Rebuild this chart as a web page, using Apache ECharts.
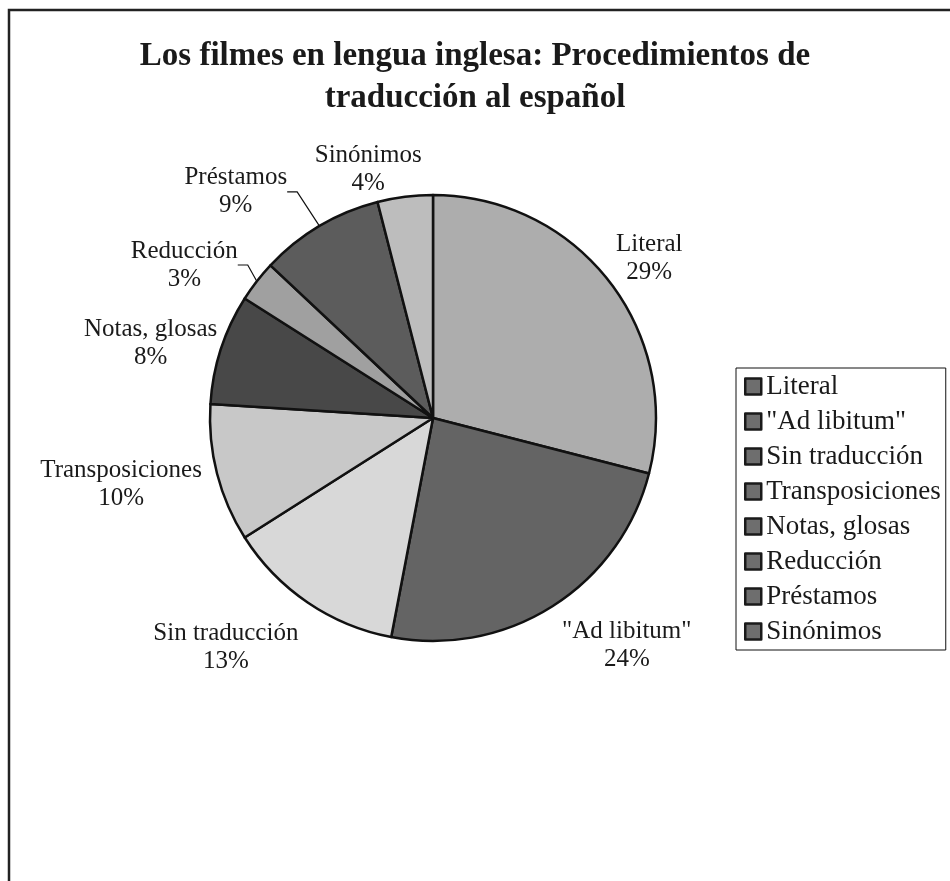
<!DOCTYPE html>
<html>
<head>
<meta charset="utf-8">
<script src="https://cdn.jsdelivr.net/npm/echarts@6/dist/echarts.min.js"></script>
<style>
html, body { margin: 0; padding: 0; background: #fff; }
#chart { width: 950px; height: 881px; }
</style>
</head>
<body>
<div id="chart"></div>
<script>
var categories = ['Literal', '"Ad libitum"', 'Sin traducción', 'Transposiciones', 'Notas, glosas', 'Reducción', 'Préstamos', 'Sinónimos'];
var values = [29, 24, 13, 10, 8, 3, 9, 4];

var sliceColors = ['#adadad', '#646464', '#d8d8d8', '#c8c8c8', '#484848', '#a0a0a0', '#5c5c5c', '#bdbdbd'];
// label placement: radial distance from pie centre and angular shift (deg) from slice middle
var labelDist = [269, 299, 309, 319, 292, 292, 300, 257];
var labelShift = [1.3, -8, 7.9, 2.3, -3.3, -6.2, -10.5, -7.4];
var withLine = [false, false, false, false, false, true, true, false];

var cx = 433, cy = 418, radius = 223;

// mid angle of each slice, clockwise from 12 o'clock
var total = values.reduce(function (s, v) { return s + v; }, 0);
var mids = [];
var acc = 0;
values.forEach(function (v) {
    mids.push((acc + v / 2) / total * 360);
    acc += v;
});

var serif = '"Liberation Serif", "DejaVu Serif", serif';

var pieData = categories.map(function (name, i) {
    return {
        name: name,
        value: values[i],
        itemStyle: { color: sliceColors[i] },
        labelLine: { show: withLine[i] }
    };
});

var option = {
    backgroundColor: '#fff',
    animation: false,
    title: {
        text: 'Los filmes en lengua inglesa: Procedimientos de\ntraducción al español',
        left: 'center',
        top: 30,
        textStyle: {
            fontFamily: serif,
            fontWeight: 'bold',
            fontSize: 33,
            lineHeight: 42,
            color: '#1a1a1a'
        }
    },
    legend: {
        orient: 'vertical',
        left: 736,
        top: 368,
        padding: [5, 5, 5, 8],
        itemGap: 8,
        itemWidth: 16,
        itemHeight: 16,
        icon: 'rect',
        borderColor: '#111',
        borderWidth: 1,
        itemStyle: { color: '#6e6e6e', borderColor: '#1a1a1a', borderWidth: 2.5 },
        textStyle: { fontFamily: serif, fontSize: 27, lineHeight: 27, color: '#1a1a1a' },
        data: categories
    },
    graphic: [{
        type: 'rect',
        shape: { x: 9, y: 10, width: 960, height: 900 },
        style: { fill: 'none', stroke: '#222', lineWidth: 2.5 },
        silent: true
    }],
    series: [{
        type: 'pie',
        center: [cx, cy],
        radius: radius,
        startAngle: 90,
        clockwise: true,
        data: pieData,
        itemStyle: { borderColor: '#111', borderWidth: 2.5 },
        emphasis: { disabled: true },
        label: {
            position: 'outside',
            formatter: '{b}\n{c}%',
            fontFamily: serif,
            fontSize: 25,
            lineHeight: 28,
            color: '#1a1a1a',
            align: 'center'
        },
        labelLine: {
            show: false,
            length: 10,
            length2: 10,
            lineStyle: { color: '#111', width: 1.2 }
        },
        labelLayout: function (p) {
            var i = p.dataIndex;
            var a = (mids[i] + labelShift[i]) * Math.PI / 180;
            return {
                x: cx + labelDist[i] * Math.sin(a),
                y: cy - labelDist[i] * Math.cos(a),
                align: 'center',
                verticalAlign: 'middle'
            };
        }
    }]
};

var chart = echarts.init(document.getElementById('chart'));
chart.setOption(option);
</script>
</body>
</html>
